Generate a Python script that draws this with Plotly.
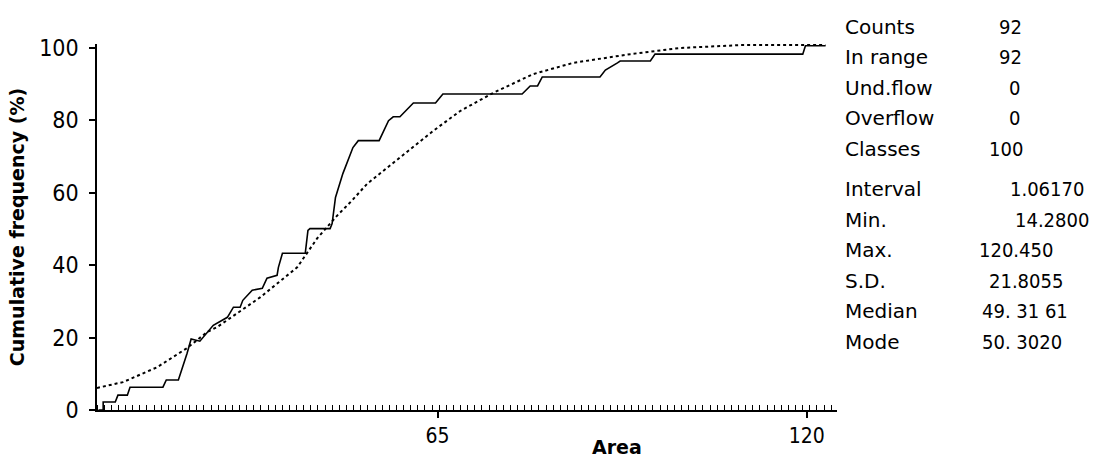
import plotly.graph_objects as go

# ---- data ----
# empirical cumulative frequency (solid, step-like)
area_emp = [14.5, 15.2, 15.2, 17.0, 17.4, 18.8, 19.2, 24.1, 24.6, 26.4, 27.7, 28.3, 29.6,
            31.6, 33.7, 34.6, 35.6, 36.0, 37.4, 38.9, 39.6, 41.1, 41.3, 41.9, 45.3, 45.7,
            46.0, 49.0, 49.3, 49.8, 50.9, 52.4, 53.2, 56.3, 57.7, 58.4, 59.4, 61.4, 64.7,
            65.8, 77.6, 78.8, 79.9, 80.6, 89.2, 90.0, 91.8, 92.2, 96.7, 97.4, 119.4, 119.8,
            122.8]
cum_emp = [0, 0, 2.2, 2.2, 4.1, 4.1, 6.3, 6.3, 8.3, 8.3, 15.7, 19.6, 19.0,
           23.4, 25.6, 28.4, 28.4, 30.3, 33.1, 33.6, 36.4, 37.2, 39.4, 43.3, 43.3, 49.6,
           50.1, 50.1, 51.5, 58.7, 65.3, 72.5, 74.4, 74.4, 79.9, 81.0, 81.0, 84.8, 84.8,
           87.3, 87.3, 89.5, 89.5, 92.0, 92.0, 93.9, 95.9, 96.4, 96.4, 98.3, 98.3, 100.6,
           100.6]

# fitted (normal) cumulative curve (dotted)
area_fit = [14.28, 18.15, 23.22, 27.69, 30.67, 32.16, 35.14, 38.57, 44.09, 47.07, 50.05,
            52.28, 54.52, 59.44, 64.36, 68.38, 73.30, 79.26, 83.28, 85.22, 93.72, 101.17,
            110.11, 122.77]
cum_fit = [6.1, 7.7, 11.8, 17.1, 21.5, 22.9, 26.7, 31.1, 39.4, 47.4, 53.7,
           57.9, 62.5, 69.7, 77.1, 82.6, 87.6, 92.8, 95.0, 95.9, 98.3, 100.0,
           100.8, 100.8]

y_ticks = [0, 20, 40, 60, 80, 100]
x_ticks = [65, 120]
class_start = 14.28
class_width = 1.0617

stat_labels = ["Counts", "In range", "Und.flow", "Overflow", "Classes",
               "Interval", "Min.", "Max.", "S.D.", "Median", "Mode"]
stat_values = ["92", "92", "0", "0", "100",
               "1.06170", "14.2800", "120.450", "21.8055", "49. 31 61", "50. 3020"]

# ---- layout geometry (pixels) ----
W, H = 1093, 463
L, R, T, B = 97, 837, 44, 410

def px(xp):
    return (xp - L) / (R - L)

def py(yp):
    return (B - yp) / (B - T)

FONT_C = "DejaVu Sans Condensed, DejaVu Sans, sans-serif"
FONT = "DejaVu Sans, sans-serif"

fig = go.Figure()
fig.add_trace(go.Scatter(x=area_fit, y=cum_fit, mode="lines",
                         line=dict(color="black", width=2, dash="dot"),
                         showlegend=False, hoverinfo="skip"))
fig.add_trace(go.Scatter(x=area_emp, y=cum_emp, mode="lines",
                         line=dict(color="black", width=1.6),
                         showlegend=False, hoverinfo="skip"))

stat_rows = [27, 57.5, 88, 118.5, 149, 189, 219.5, 250, 280.5, 311, 341.5]
value_x = [997, 997, 1007, 1007, 987, 1008, 1013, 977, 987, 980, 980]
annotations = []
for lab, val, yr, vx in zip(stat_labels, stat_values, stat_rows, value_x):
    annotations.append(dict(x=px(843), y=py(yr), xref="paper", yref="paper",
                            text=lab, showarrow=False, xanchor="left", yanchor="middle",
                            font=dict(family=FONT, size=20, color="black")))
    annotations.append(dict(x=px(vx), y=py(yr), xref="paper", yref="paper",
                            text=val, showarrow=False, xanchor="left", yanchor="middle",
                            font=dict(family=FONT_C, size=20, color="black")))
annotations.append(dict(x=px(617), y=py(447), xref="paper", yref="paper",
                        text="<b>Area</b>", showarrow=False, xanchor="center", yanchor="middle",
                        font=dict(family=FONT, size=19, color="black")))

fig.update_layout(
    width=W, height=H,
    margin=dict(l=L, r=W - R, t=T, b=H - B, pad=0),
    paper_bgcolor="white", plot_bgcolor="white",
    annotations=annotations,
    xaxis=dict(range=[class_start, 124.5], showgrid=False, zeroline=False,
               showline=True, linecolor="black", linewidth=1.5,
               tickmode="array", tickvals=x_ticks, ticktext=[str(v) for v in x_ticks],
               ticks="outside", ticklen=6, tickcolor="black", tickwidth=1.5,
               tickfont=dict(family=FONT_C, size=21, color="black"),
               minor=dict(ticks="inside", ticklen=5, tickcolor="black", tickwidth=1.2,
                          tickmode="linear", tick0=class_start, dtick=class_width,
                          showgrid=False)),
    yaxis=dict(range=[0, 101.1], showgrid=False, zeroline=False,
               showline=True, linecolor="black", linewidth=1.5,
               tickmode="array", tickvals=y_ticks, ticktext=[str(v) for v in y_ticks],
               ticks="outside", ticklen=6, tickcolor="black", tickwidth=1.5,
               ticklabelstandoff=6,
               tickfont=dict(family=FONT_C, size=23, color="black"),
               title=dict(text="<b>Cumulative frequency (%)</b>", standoff=10,
                          font=dict(family=FONT, size=19, color="black"))),
)

fig.write_html("out.html")
